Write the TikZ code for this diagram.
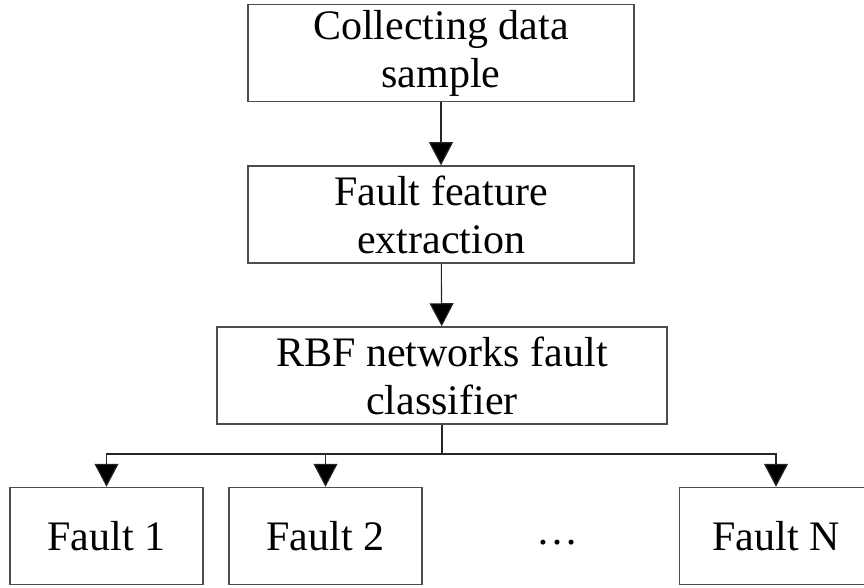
\documentclass[tikz,border=0pt]{standalone}
\usepackage{fontspec}
\setmainfont{Liberation Serif}
\usetikzlibrary{arrows.meta}

\begin{document}
\begin{tikzpicture}[x=1pt,y=1pt,
    box/.style={draw=black!70,line width=1.5pt,align=center,inner sep=0pt,
      minimum height=97pt,font=\fontsize{42}{48}\selectfont},
    arr/.style={-{Triangle[length=23pt,width=24pt,fill=black]}},
    line/.style={draw=black!85,line width=1.1pt}]
  \useasboundingbox (0,0) rectangle (864,587);
  \node[box,minimum width=386pt] (collect) at (441,534) {Collecting data\\sample};
  \node[box,minimum width=386pt] (feature) at (441,372.5) {Fault feature\\extraction};
  \node[box,minimum width=450pt] (rbf) at (442,211.5) {RBF networks fault\\classifier};
  \node[box,minimum width=193pt] (f1) at (106.5,51) {Fault 1};
  \node[box,minimum width=193pt] (f2) at (325.5,51) {Fault 2};
  \node[box,minimum width=193pt] (fN) at (776,51) {Fault N};
  \node[font=\fontsize{42}{48}\selectfont] (dots) at (557,44) {…};
  \coordinate (split) at (442,133);
  \draw[line,arr] (collect) -- (feature);
  \draw[line,arr] (feature) -- (rbf);
  \draw[line] (rbf) -- (split);
  \draw[line,arr] (split) -| (f1);
  \draw[line,arr] (split) -| (f2);
  \draw[line,arr] (split) -| (fN);
\end{tikzpicture}
\end{document}
